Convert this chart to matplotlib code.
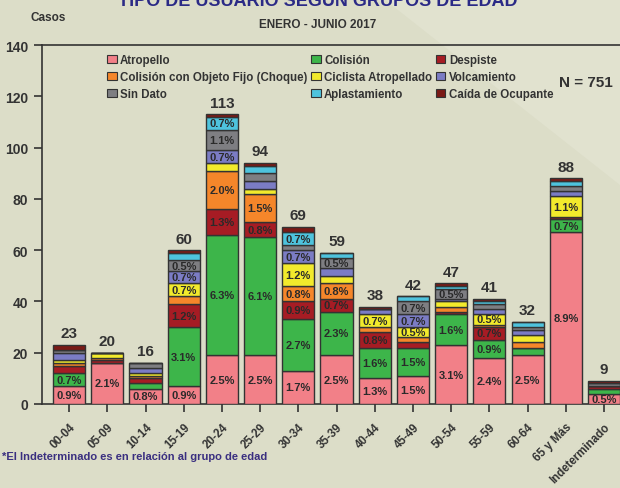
import matplotlib.pyplot as plt
import numpy as np
from matplotlib.patches import Patch, Polygon

plt.rcParams['font.family'] = ['Liberation Sans', 'DejaVu Sans']
plt.rcParams['font.weight'] = 'bold'

# casos por grupo de edad (enero - junio 2017)
grupos = ["00-04", "05-09", "10-14", "15-19", "20-24", "25-29", "30-34", "35-39",
          "40-44", "45-49", "50-54", "55-59", "60-64", "65 y Más", "Indeterminado"]
atropello = [7, 16, 6, 7, 19, 19, 13, 19, 10, 11, 23, 18, 19, 67, 4]
colision = [5, 0, 2, 23, 47, 46, 20, 17, 12, 11, 12, 7, 3, 5, 2]
despiste = [3, 1, 2, 9, 10, 6, 7, 5, 6, 2, 1, 5, 0, 1, 1]
choque = [1, 1, 1, 3, 15, 11, 6, 6, 2, 2, 2, 1, 2, 0, 0]
ciclista = [1, 2, 1, 5, 3, 2, 9, 3, 5, 4, 2, 4, 3, 8, 0]
volcamiento = [3, 0, 2, 5, 5, 3, 5, 3, 2, 5, 1, 2, 2, 2, 0]
sin_dato = [1, 0, 2, 4, 8, 3, 2, 4, 0, 5, 4, 2, 1, 2, 1]
aplastamiento = [0, 0, 0, 3, 5, 3, 5, 2, 0, 2, 1, 1, 2, 2, 0]
caida = [2, 0, 0, 1, 1, 1, 2, 0, 1, 0, 1, 1, 0, 1, 1]
N_total = 751

tipos = ["Atropello", "Colisión", "Despiste", "Colisión con Objeto Fijo (Choque)",
         "Ciclista Atropellado", "Volcamiento", "Sin Dato", "Aplastamiento",
         "Caída de Ocupante"]
series = [atropello, colision, despiste, choque, ciclista, volcamiento,
          sin_dato, aplastamiento, caida]
colores = ["#F28088", "#3DB54A", "#A61C24", "#F5862A", "#F2EA2C", "#7B7CC4",
           "#7E7E82", "#4EC3DD", "#7A1A16"]

bg = "#DCDDC8"
fig = plt.figure(figsize=(6.2, 4.89), dpi=100, facecolor=bg)
# lighter diagonal band in the background
fig.patches.append(Polygon([(0.62, 1.0), (1.0, 1.0), (1.0, 0.62)], closed=True,
                           transform=fig.transFigure, facecolor="#E1E2CF",
                           edgecolor="none", zorder=-5))

ax = fig.add_axes([42 / 620, 1 - 405 / 489, 1 - 42 / 620, (405 - 46) / 489])
ax.set_facecolor("none")

x = np.arange(len(grupos))
bottom = np.zeros(len(grupos))
for nombre, vals, col in zip(tipos, series, colores):
    vals = np.array(vals)
    ax.bar(x, vals, 0.84, bottom=bottom, color=col, edgecolor="#333333",
           linewidth=1.0, zorder=3)
    for i, v in enumerate(vals):
        if v >= 4:
            ax.text(x[i], bottom[i] + v / 2, f"{v / N_total * 100:.1f}%",
                    ha="center", va="center", fontsize=8, color="#2a2a2a",
                    zorder=4)
    bottom += vals

for i, tot in enumerate(bottom):
    ax.text(x[i], tot + 1.8, f"{int(tot)}", ha="center", va="bottom",
            fontsize=11, color="#333333", zorder=4)

ax.set_xlim(-0.71, 14.42)
ax.set_ylim(0, 140)
ax.set_yticks(range(0, 141, 20))
ax.set_xticks(x)
ax.set_xticklabels(grupos, rotation=45, ha="right", rotation_mode="anchor",
                   fontsize=8.3)
ax.tick_params(axis="y", labelsize=10, length=6, width=1.2, color="#333333",
               labelcolor="#333333", pad=4)
ax.tick_params(axis="x", length=6, width=1.2, color="#333333",
               labelcolor="#333333", pad=6)
for s in ["left", "bottom", "top"]:
    ax.spines[s].set_color("#333333")
    ax.spines[s].set_linewidth(1.2)
ax.spines["right"].set_visible(False)

# legend is filled column-wise, reorder to read row-wise like the original
orden = [0, 3, 6, 1, 4, 7, 2, 5, 8]
handles = [Patch(facecolor=colores[k], edgecolor="#333333", linewidth=0.8) for k in orden]
leg = ax.legend(handles, [tipos[k] for k in orden], ncol=3, loc="upper left",
                bbox_to_anchor=(0.107, 0.985), fontsize=8.3, frameon=True,
                fancybox=False, framealpha=0, edgecolor="#222222",
                handlelength=0.8, handleheight=0.7, handletextpad=0.3,
                columnspacing=0.35, labelspacing=0.45, borderpad=0.3,
                borderaxespad=0)
leg.set_zorder(5)
leg.get_frame().set_linewidth(1.0)
for t in leg.get_texts():
    t.set_color("#333333")

fig.text(0.513, 0.988, "TIPO DE USUARIO SEGÚN GRUPOS DE EDAD", ha="center",
         va="baseline", fontsize=13, color="#2B2A86")
fig.text(48 / 620, 1 - 18 / 489, "Casos", ha="center", va="center",
         fontsize=8.5, color="#333333")
fig.text(318 / 620, 1 - 25 / 489, "ENERO - JUNIO 2017", ha="center",
         va="center", fontsize=8.5, color="#333333")
fig.text(586 / 620, 1 - 83 / 489, "N = 751", ha="center", va="center",
         fontsize=11, color="#333333")
fig.text(2 / 620, 1 - 457 / 489, "*El Indeterminado es en relación al grupo de edad",
         ha="left", va="center", fontsize=8, color="#3A2F80")

fig.savefig("out.png", dpi=100, facecolor=bg)
